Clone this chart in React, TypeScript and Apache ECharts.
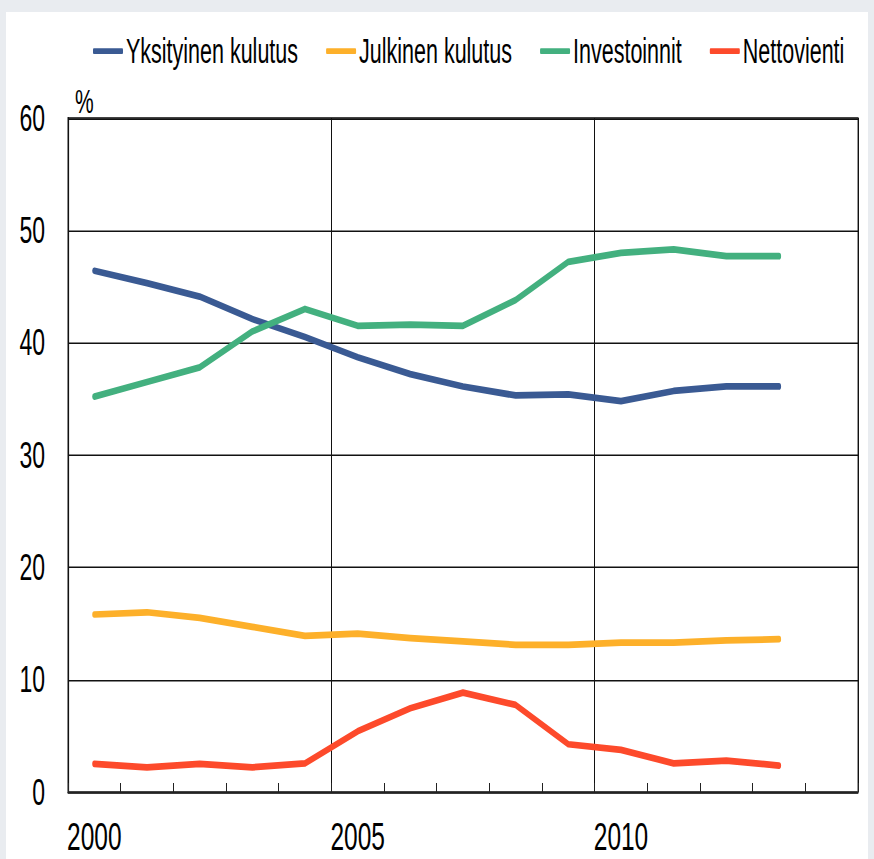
import React, { useEffect, useRef } from "react";
import * as echarts from "echarts";

const categories = ["2000", "2001", "2002", "2003", "2004", "2005", "2006", "2007", "2008", "2009", "2010", "2011", "2012", "2013", "2014"];
const yksityinenKulutus = [46.4, 45.3, 44.1, 42.1, 40.5, 38.7, 37.2, 36.1, 35.3, 35.4, 34.8, 35.7, 36.1, 36.1];
const julkinenKulutus = [15.8, 16.0, 15.5, 14.7, 13.9, 14.1, 13.7, 13.4, 13.1, 13.1, 13.3, 13.3, 13.5, 13.6];
const investoinnit = [35.2, 36.5, 37.8, 41.0, 43.0, 41.5, 41.6, 41.5, 43.8, 47.2, 48.0, 48.3, 47.7, 47.7];
const nettovienti = [2.5, 2.2, 2.5, 2.2, 2.55, 5.4, 7.45, 8.85, 7.75, 4.25, 3.75, 2.55, 2.8, 2.35];
const seriesNames = ["Yksityinen kulutus", "Julkinen kulutus", "Investoinnit", "Nettovienti"];
const seriesColors = ["#3a5a93", "#fdb02a", "#43b07f", "#fd4a2b"];
const labeledYears = ["2000", "2005", "2010"];
const gridYears = ["2005", "2010"];

const SY = 1.6;
const W = 874;
const H = 537;
const FONT = "'Liberation Sans', Arial, Helvetica, sans-serif";

export default function App() {
  const ref = useRef<HTMLDivElement>(null);
  useEffect(() => {
    if (!ref.current) return;
    const chart = echarts.init(ref.current, undefined, { renderer: "svg" });
    const data = [yksityinenKulutus, julkinenKulutus, investoinnit, nettovienti];
    chart.setOption({
      animation: false,
      backgroundColor: "transparent",
      textStyle: { fontFamily: FONT },
      legend: {
        left: 93,
        top: 21,
        padding: 0,
        itemWidth: 30,
        itemHeight: 3.6,
        itemGap: 28,
        icon: "roundRect",
        data: seriesNames,
        textStyle: { fontSize: 21.5, color: "#000", fontFamily: FONT, padding: [0, 0, 0, -2] },
      },
      grid: {
        left: 68,
        right: 16,
        top: 73.75,
        bottom: 42,
        show: true,
        borderColor: "#444",
        borderWidth: 1.1,
        containLabel: false,
      },
      xAxis: {
        type: "category",
        data: categories,
        boundaryGap: true,
        axisLine: { show: true, lineStyle: { color: "#222", width: 1.1 } },
        axisTick: {
          show: true,
          inside: true,
          length: 5.6,
          interval: 0,
          lineStyle: { color: "#222", width: 1 },
        },
        axisLabel: {
          interval: (i: number, v: string) => labeledYears.includes(v),
          margin: 15,
          fontSize: 24.5,
          color: "#000",
          fontFamily: FONT,
        },
        splitLine: {
          show: true,
          interval: (i: number, v: string) => gridYears.includes(categories[i]),
          lineStyle: { color: "#111", width: 1 },
        },
      },
      yAxis: {
        type: "value",
        min: 0,
        max: 60,
        interval: 10,
        name: "%",
        nameLocation: "end",
        nameGap: 0,
        nameTextStyle: { align: "left", padding: [0, 0, 0, 7], fontSize: 21, color: "#000", fontFamily: FONT },
        axisLine: { show: true, lineStyle: { color: "#111", width: 1.2 } },
        axisTick: { show: false },
        axisLabel: { margin: 23, fontSize: 23, color: "#000", fontFamily: FONT },
        splitLine: { show: true, lineStyle: { color: "#111", width: 1 } },
      },
      series: seriesNames.map((name, i) => ({
        name,
        type: "line",
        data: data[i],
        symbol: "none",
        color: seriesColors[i],
        lineStyle: { width: 4.2, color: seriesColors[i], cap: "round", join: "round" },
      })),
    });
    return () => chart.dispose();
  }, []);

  return (
    <div
      style={{
        position: "absolute",
        left: 0,
        top: 0,
        width: W,
        height: 859,
        overflow: "hidden",
        background: "#e9ecf0",
      }}
    >
      <div
        style={{
          position: "absolute",
          left: 6,
          top: 12,
          right: 6,
          bottom: 0,
          background: "#ffffff",
        }}
      />
      <div
        ref={ref}
        style={{
          position: "absolute",
          left: 0,
          top: 0,
          width: W,
          height: H,
          transform: `scaleY(${SY})`,
          transformOrigin: "0 0",
        }}
      />
    </div>
  );
}
